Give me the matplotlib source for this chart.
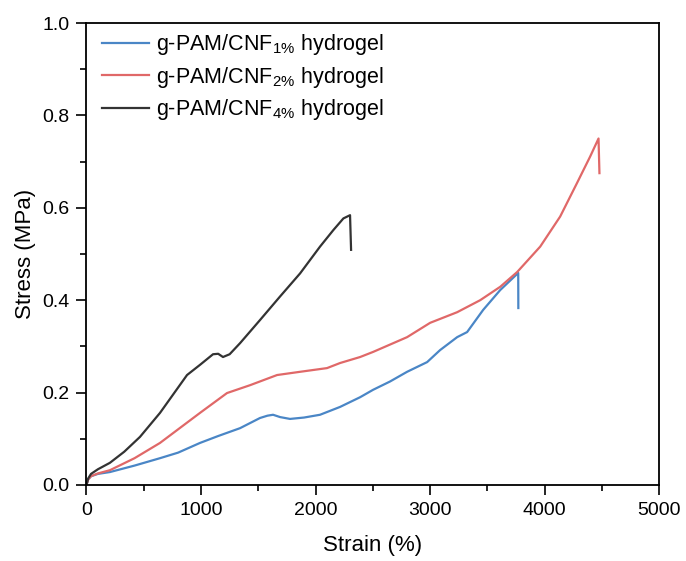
import matplotlib
matplotlib.use("Agg")
import matplotlib.pyplot as plt

plt.rcParams["font.family"] = ["Liberation Sans", "DejaVu Sans"]
plt.rcParams["mathtext.fontset"] = "custom"
plt.rcParams["mathtext.rm"] = "Liberation Sans"
plt.rcParams["mathtext.it"] = "Liberation Sans:italic"

# strain (%) / stress (MPa)
strain_1 = [0, 15, 40, 100, 205, 420, 642, 800, 991, 1150, 1341, 1515, 1580, 1629,
            1690, 1777, 1900, 2039, 2214, 2389, 2502, 2650, 2799, 2974, 3087,
            3236, 3323, 3463, 3612, 3769, 3770]
stress_1 = [0, 0.012, 0.019, 0.024, 0.028, 0.042, 0.058, 0.070, 0.091, 0.106, 0.123,
            0.145, 0.150, 0.152, 0.147, 0.143, 0.146, 0.152, 0.169, 0.190, 0.206,
            0.224, 0.245, 0.266, 0.292, 0.320, 0.331, 0.379, 0.422, 0.459, 0.383]

strain_2 = [0, 15, 40, 100, 205, 420, 642, 991, 1227, 1428, 1664, 1865, 2100,
            2214, 2389, 2502, 2799, 3000, 3236, 3437, 3612, 3760, 3961, 4135,
            4281, 4397, 4470, 4478]
stress_2 = [0, 0.012, 0.019, 0.025, 0.032, 0.058, 0.091, 0.156, 0.199, 0.216, 0.238,
            0.245, 0.253, 0.264, 0.277, 0.288, 0.320, 0.351, 0.374, 0.400, 0.429,
            0.461, 0.516, 0.581, 0.653, 0.711, 0.750, 0.675]

strain_3 = [0, 15, 40, 100, 205, 330, 467, 642, 878, 991, 1105, 1150, 1192, 1250,
            1341, 1515, 1690, 1865, 2039, 2156, 2243, 2301, 2310]
stress_3 = [0, 0.014, 0.024, 0.034, 0.048, 0.072, 0.104, 0.156, 0.238, 0.260, 0.283,
            0.284, 0.277, 0.283, 0.307, 0.357, 0.408, 0.458, 0.516, 0.552, 0.577,
            0.584, 0.509]

labels = [r"g-PAM/CNF$_{\mathrm{1\%}}$ hydrogel",
          r"g-PAM/CNF$_{\mathrm{2\%}}$ hydrogel",
          r"g-PAM/CNF$_{\mathrm{4\%}}$ hydrogel"]
colors = ["#4a86c6", "#e06868", "#333333"]

fig = plt.figure(figsize=(6.86, 5.61), dpi=100)
ax = fig.add_axes([0.126, 0.1355, 0.835, 0.8235])

for x, y, lab, c in zip((strain_1, strain_2, strain_3),
                        (stress_1, stress_2, stress_3), labels, colors):
    ax.plot(x, y, color=c, lw=1.6, label=lab)

ax.set_xlim(0, 5000)
ax.set_ylim(0, 1.0)
ax.set_xticks([0, 1000, 2000, 3000, 4000, 5000])
ax.set_xticks(range(500, 5000, 1000), minor=True)
ax.set_yticks([0, 0.2, 0.4, 0.6, 0.8, 1.0])
ax.set_yticks([0.1, 0.3, 0.5, 0.7, 0.9], minor=True)
ax.tick_params(which="major", direction="out", length=7, width=1.2,
               labelsize=14, pad=5)
ax.tick_params(which="minor", direction="out", length=4, width=1.2)
for s in ax.spines.values():
    s.set_linewidth(1.3)
ax.set_xlabel("Strain (%)", fontsize=16, labelpad=12)
ax.set_ylabel("Stress (MPa)", fontsize=16, labelpad=5)

ax.legend(loc="upper left", bbox_to_anchor=(0, 1.013), frameon=False,
          fontsize=15.5, handlelength=2.2, labelspacing=0.35,
          borderaxespad=0.4, handletextpad=0.35, borderpad=0.3)

fig.savefig("out.png", dpi=100)
